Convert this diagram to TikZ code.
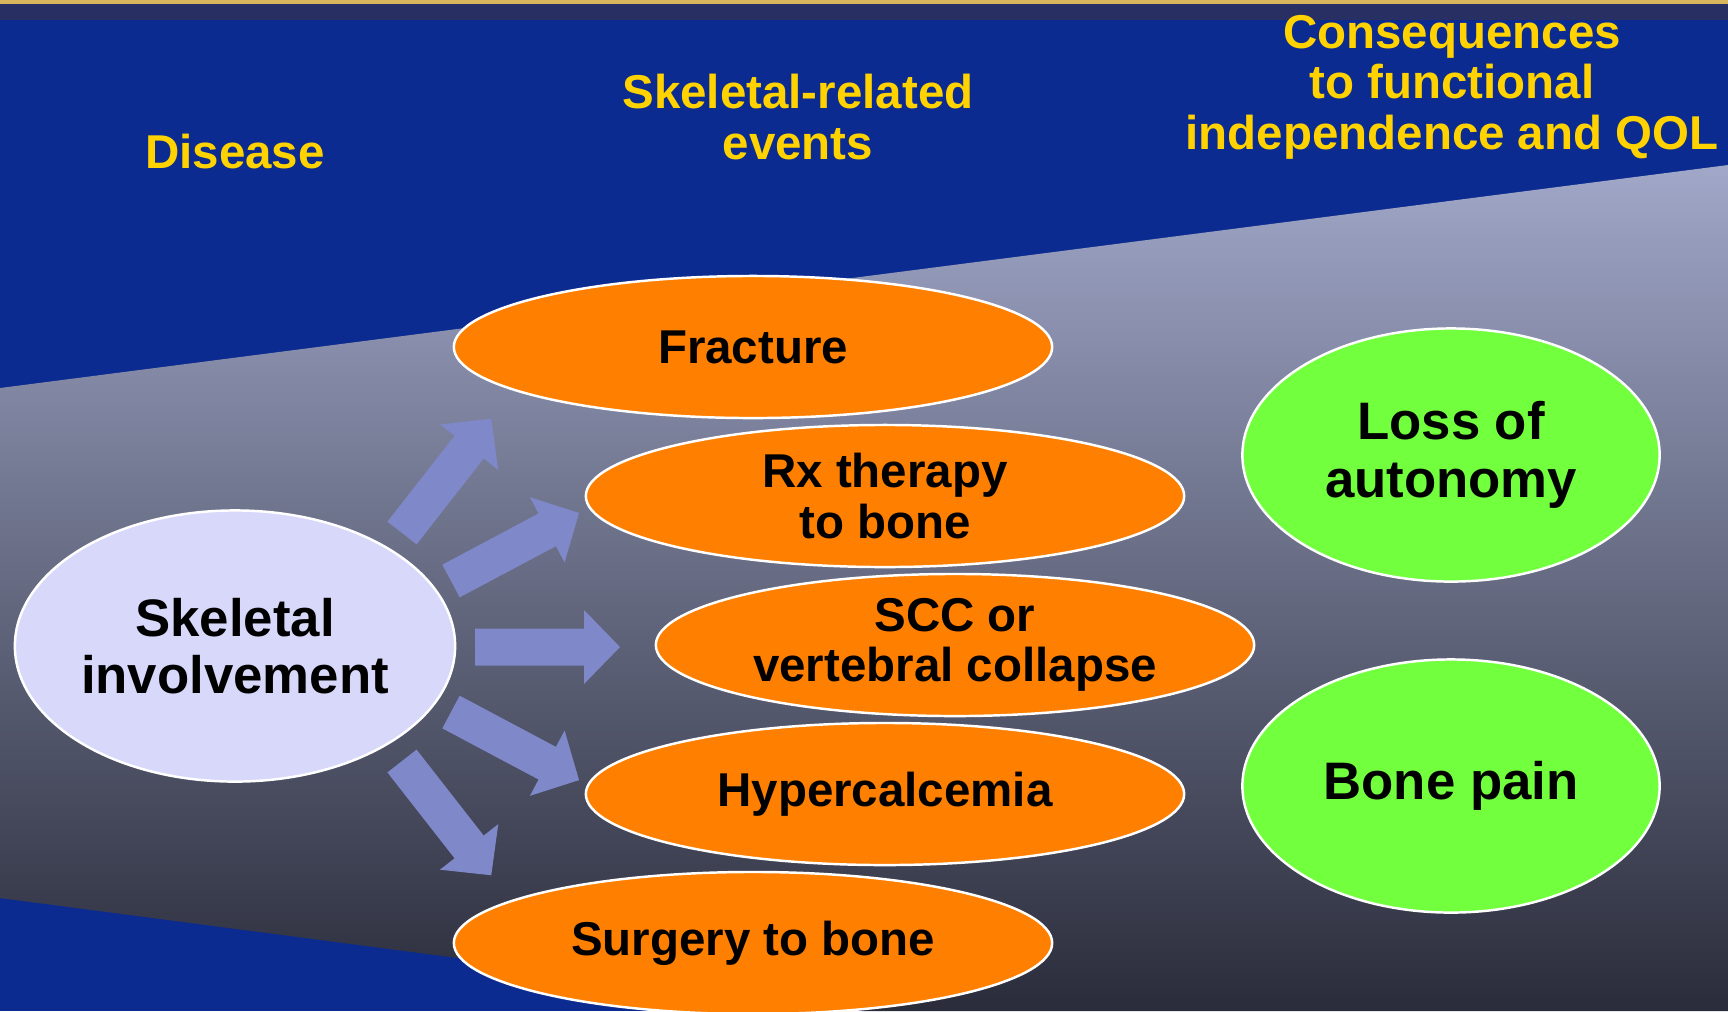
\documentclass[tikz,border=0pt]{standalone}
\usepackage{fontspec}
\setmainfont{Liberation Sans}
\usetikzlibrary{shapes.geometric}
\definecolor{slideblue}{HTML}{0B2B90}
\definecolor{topgold}{HTML}{D9B65E}
\definecolor{topstrip}{HTML}{282F62}
\definecolor{funneltop}{HTML}{A0A7C8}
\definecolor{funnelmid}{HTML}{7C82A0}
\definecolor{funnelbottom}{HTML}{2A2C3A}
\definecolor{headtext}{HTML}{FFD200}
\definecolor{diseasefill}{HTML}{D8D8FA}
\definecolor{eventfill}{HTML}{FF7F00}
\definecolor{qolfill}{HTML}{72FF3E}
\definecolor{arrowfill}{HTML}{7F88C8}
\tikzset{
  heading/.style={font=\fontsize{13.5}{14.4}\selectfont\bfseries, text=headtext, align=center},
  blob/.style={ellipse, draw=white, line width=0.7pt, inner sep=-6pt, align=center, text=black},
  disease/.style={blob, fill=diseasefill, minimum width=4.4cm, minimum height=2.71cm, font=\fontsize{15}{16.2}\selectfont\bfseries},
  event/.style={blob, fill=eventfill, minimum width=5.98cm, minimum height=1.42cm, font=\fontsize{13.5}{14.4}\selectfont\bfseries},
  outcome/.style={blob, fill=qolfill, minimum width=4.17cm, minimum height=2.53cm, font=\fontsize{15}{16.5}\selectfont\bfseries},
  fatarrow/.style={fill=arrowfill}
}

\begin{document}
\begin{tikzpicture}[x=0.01cm, y=-0.01cm]

\fill[slideblue] (0,0) rectangle (1728,1011);
\useasboundingbox (0,0) rectangle (1728,1011);
\fill[topstrip] (0,4) rectangle (1728,20);
\fill[topgold] (0,0) rectangle (1728,4);
\shade[top color=funneltop, middle color=funnelmid, bottom color=funnelbottom]
  (0,388) -- (1728,165) -- (1728,1011) -- (862,1011) -- (0,898) -- cycle;

\node[heading] (disease-head) at (235,152) {Disease};
\node[heading] (events-head) at (798,117) {Skeletal-related\\events};
\node[heading] (qol-head) at (1452,87) {Consequences\\to functional\\independence and QOL};

\foreach \tx/\ty/\ang in {402/533/52, 451/581/28, 475/647/0, 451/712/-28, 402/761/-52}
  \fill[fatarrow, shift={(\tx,\ty)}, rotate=\ang]
    (0,-18.5) -- (109,-18.5) -- (109,-37) -- (145,0) -- (109,37) -- (109,18.5) -- (0,18.5) -- cycle;

\node[disease] (skeletal) at (235,646) {Skeletal\\involvement};

\node[event] (fracture) at (753,347) {Fracture};
\node[event] (rx) at (885,496) {Rx therapy\\to bone};
\node[event] (scc) at (955,645) {SCC or\\vertebral collapse};
\node[event] (hypercalc) at (885,794) {Hypercalcemia};
\node[event] (surgery) at (753,943) {Surgery to bone};

\node[outcome] (autonomy) at (1451,455) {Loss of\\autonomy};
\node[outcome] (bonepain) at (1451,786) {Bone pain};

\end{tikzpicture}
\end{document}
